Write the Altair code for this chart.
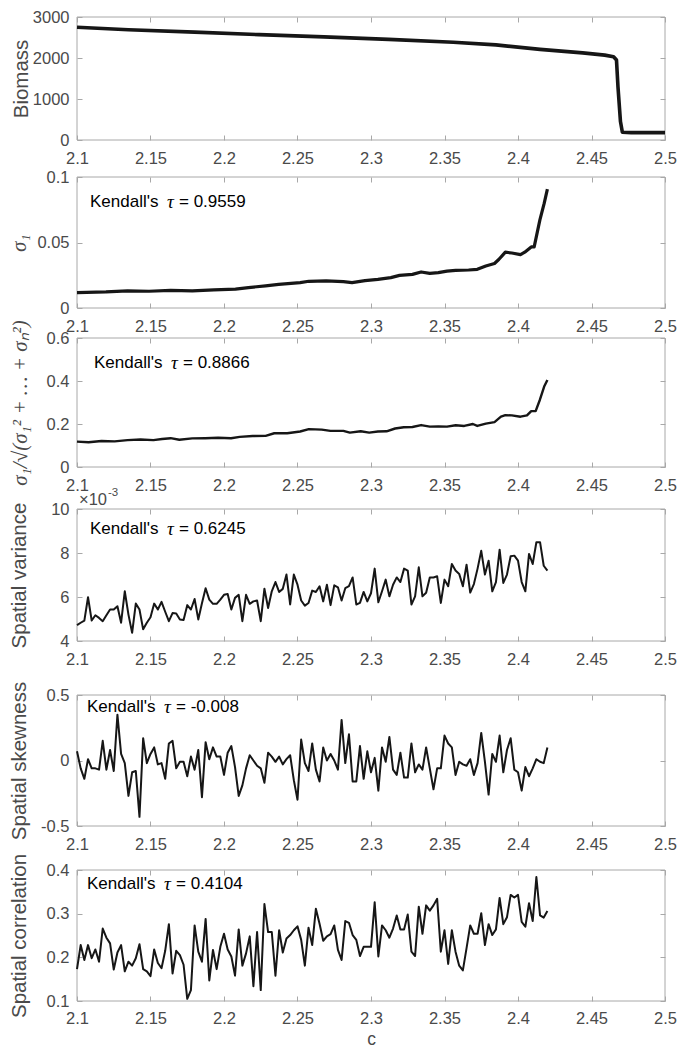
import altair as alt
import pandas as pd

FONT = "Liberation Sans"
LABEL_COLOR = "#4a4a4a"
FRAME_COLOR = "#a8a8a8"
LINE_COLOR = "#161616"
PLOT_W = 588

X_TICKS = [2.1, 2.15, 2.2, 2.25, 2.3, 2.35, 2.4, 2.45, 2.5]

# sampling grid of c for the noisy indicators
C_GRID = [
    2.1, 2.1025, 2.105, 2.1075, 2.11, 2.1125, 2.115, 2.1175,
    2.12, 2.1225, 2.125, 2.1275, 2.13, 2.1325, 2.135, 2.1375,
    2.14, 2.1425, 2.145, 2.1475, 2.15, 2.1525, 2.155, 2.1575,
    2.16, 2.1625, 2.165, 2.1675, 2.17, 2.1725, 2.175, 2.1775,
    2.18, 2.1825, 2.185, 2.1875, 2.19, 2.1925, 2.195, 2.1975,
    2.2, 2.2025, 2.205, 2.2075, 2.21, 2.2125, 2.215, 2.2175,
    2.22, 2.2225, 2.225, 2.2275, 2.23, 2.2325, 2.235, 2.2375,
    2.24, 2.2425, 2.245, 2.2475, 2.25, 2.2525, 2.255, 2.2575,
    2.26, 2.2625, 2.265, 2.2675, 2.27, 2.2725, 2.275, 2.2775,
    2.28, 2.2825, 2.285, 2.2875, 2.29, 2.2925, 2.295, 2.2975,
    2.3, 2.3025, 2.305, 2.3075, 2.31, 2.3125, 2.315, 2.3175,
    2.32, 2.3225, 2.325, 2.3275, 2.33, 2.3325, 2.335, 2.3375,
    2.34, 2.3425, 2.345, 2.3475, 2.35, 2.3525, 2.355, 2.3575,
    2.36, 2.3625, 2.365, 2.3675, 2.37, 2.3725, 2.375, 2.3775,
    2.38, 2.3825, 2.385, 2.3875, 2.39, 2.3925, 2.395, 2.3975,
    2.4, 2.4025, 2.405, 2.4075, 2.41, 2.4125, 2.415, 2.4175,
    2.42,
]

BIOMASS_C = [2.1, 2.135, 2.18, 2.224, 2.268, 2.312, 2.356, 2.385, 2.415,
             2.444, 2.459, 2.465, 2.467, 2.468, 2.4697, 2.471, 2.477, 2.5]
BIOMASS = [2750, 2690, 2630, 2570, 2515, 2455, 2385, 2320, 2210,
           2125, 2070, 2030, 1950, 1300, 450, 190, 180, 180]

SIGMA1_C = [2.1, 2.1197, 2.1344, 2.149, 2.1637, 2.1784, 2.1931, 2.2078, 2.2166,
            2.2283, 2.2372, 2.2518, 2.2577, 2.2695, 2.2812, 2.2871, 2.2959,
            2.3047, 2.3135, 2.3194, 2.3282, 2.3341, 2.34, 2.3458, 2.3517,
            2.3576, 2.3664, 2.3723, 2.3781, 2.384, 2.3869, 2.3914, 2.3958,
            2.4017, 2.4046, 2.409, 2.411, 2.4149, 2.4178, 2.42]
SIGMA1 = [0.0118, 0.0123, 0.0131, 0.0128, 0.0134, 0.0131, 0.0139, 0.0144, 0.0156,
          0.0169, 0.0181, 0.0194, 0.0204, 0.0207, 0.0202, 0.0194, 0.0209,
          0.0219, 0.0232, 0.0249, 0.0257, 0.0275, 0.0264, 0.027, 0.0282,
          0.0287, 0.029, 0.0295, 0.032, 0.034, 0.037, 0.0426, 0.042,
          0.0408, 0.0426, 0.0466, 0.0466, 0.0673, 0.0798, 0.0907]

RATIO_C = [2.1, 2.1079, 2.1167, 2.1256, 2.1344, 2.1432, 2.152, 2.1579, 2.1637,
           2.1696, 2.1784, 2.1872, 2.196, 2.2048, 2.2107, 2.2195, 2.2283,
           2.2342, 2.243, 2.2518, 2.2577, 2.2665, 2.2724, 2.2812, 2.2856,
           2.293, 2.2988, 2.3047, 2.3106, 2.3164, 2.3223, 2.3282, 2.3341,
           2.34, 2.3458, 2.3517, 2.3576, 2.3634, 2.3693, 2.3723, 2.3781,
           2.384, 2.3884, 2.3914, 2.3958, 2.4017, 2.4061, 2.409, 2.412,
           2.4149, 2.4178, 2.42]
RATIO = [0.118, 0.115, 0.121, 0.119, 0.125, 0.128, 0.125, 0.130, 0.134,
         0.127, 0.133, 0.134, 0.136, 0.134, 0.140, 0.144, 0.145,
         0.157, 0.157, 0.165, 0.176, 0.174, 0.168, 0.168, 0.160,
         0.166, 0.160, 0.165, 0.166, 0.179, 0.185, 0.186, 0.195,
         0.188, 0.189, 0.188, 0.194, 0.191, 0.200, 0.191, 0.202,
         0.209, 0.234, 0.241, 0.240, 0.234, 0.240, 0.260, 0.260,
         0.313, 0.374, 0.405]

# spatial variance in units of 10^-3
SPATIAL_VARIANCE = [
    4.72, 4.83, 4.93, 5.99, 4.93, 5.17, 5.05, 4.90,
    5.17, 5.43, 5.43, 5.58, 4.83, 6.26, 5.20, 4.37,
    5.70, 5.43, 4.53, 4.83, 5.08, 5.70, 5.43, 5.78,
    5.33, 4.90, 5.27, 5.25, 4.98, 4.95, 5.63, 5.43,
    5.91, 4.98, 5.72, 6.40, 5.88, 5.69, 5.69, 5.88,
    6.10, 6.14, 5.43, 5.96, 6.10, 4.90, 6.10, 5.69,
    5.80, 5.84, 4.90, 6.38, 5.50, 6.26, 6.68, 6.23,
    6.37, 7.02, 5.66, 7.02, 6.56, 5.84, 5.61, 5.73,
    6.29, 6.23, 6.49, 5.80, 6.56, 5.63, 6.53, 6.44,
    5.84, 6.40, 6.49, 6.89, 5.66, 5.73, 6.23, 5.80,
    6.17, 7.29, 5.76, 6.26, 6.79, 6.03, 6.56, 6.89,
    6.68, 7.29, 7.20, 5.66, 6.03, 7.35, 6.03, 6.19,
    6.89, 6.89, 6.94, 5.73, 6.79, 6.49, 7.50, 7.20,
    7.05, 6.49, 7.47, 6.20, 6.59, 7.29, 8.10, 7.02,
    7.65, 6.26, 6.68, 8.15, 6.64, 7.02, 7.85, 7.88,
    7.65, 6.68, 6.26, 7.96, 7.50, 8.49, 8.49, 7.42,
    7.20,
]

SPATIAL_SKEWNESS = [
    0.07, -0.06, -0.14, 0.01, -0.06, -0.06, -0.07, 0.15,
    -0.07, 0.08, -0.08, 0.35, 0.05, -0.02, -0.27, -0.09,
    -0.08, -0.43, 0.17, -0.02, 0.05, 0.10, -0.03, -0.02,
    -0.14, 0.13, 0.15, -0.06, -0.01, -0.01, -0.12, 0.03,
    -0.07, 0.08, -0.28, 0.14, 0.01, 0.10, 0.03, 0.03,
    -0.11, 0.06, 0.11, -0.05, -0.27, -0.19, -0.06, 0.04,
    0.00, -0.04, -0.06, -0.17, 0.06, 0.03, -0.01, 0.03,
    -0.03, 0.01, 0.04, -0.15, -0.30, 0.16, -0.02, -0.08,
    0.13, -0.07, -0.16, 0.10, 0.00, 0.05, 0.00, -0.07,
    0.31, -0.02, 0.20, -0.16, -0.16, 0.11, -0.14, 0.07,
    -0.09, 0.02, -0.23, 0.10, -0.01, 0.18, -0.07, -0.11,
    0.06, -0.13, -0.13, 0.13, -0.09, -0.03, -0.07, 0.10,
    -0.06, -0.22, -0.06, -0.06, 0.19, 0.13, 0.10, -0.11,
    -0.01, -0.03, -0.04, 0.01, -0.11, -0.02, 0.21, -0.01,
    -0.26, 0.05, -0.01, 0.19, -0.09, 0.08, 0.17, -0.07,
    -0.09, -0.23, -0.05, -0.12, -0.06, 0.01, -0.01, -0.02,
    0.10,
]

SPATIAL_CORRELATION = [
    0.173, 0.228, 0.194, 0.228, 0.198, 0.218, 0.190, 0.266,
    0.245, 0.232, 0.172, 0.211, 0.228, 0.168, 0.190, 0.181,
    0.198, 0.230, 0.173, 0.168, 0.157, 0.218, 0.187, 0.175,
    0.215, 0.276, 0.163, 0.215, 0.205, 0.183, 0.105, 0.125,
    0.273, 0.213, 0.190, 0.288, 0.147, 0.217, 0.173, 0.224,
    0.254, 0.218, 0.202, 0.158, 0.264, 0.181, 0.209, 0.248,
    0.134, 0.258, 0.125, 0.322, 0.258, 0.258, 0.158, 0.262,
    0.211, 0.243, 0.251, 0.262, 0.271, 0.240, 0.181, 0.268,
    0.228, 0.311, 0.277, 0.238, 0.248, 0.253, 0.273, 0.217,
    0.194, 0.283, 0.279, 0.251, 0.240, 0.203, 0.224, 0.224,
    0.224, 0.326, 0.202, 0.273, 0.262, 0.245, 0.266, 0.296,
    0.264, 0.264, 0.298, 0.213, 0.203, 0.316, 0.254, 0.319,
    0.307, 0.319, 0.334, 0.213, 0.262, 0.185, 0.262, 0.213,
    0.181, 0.170, 0.221, 0.273, 0.254, 0.254, 0.301, 0.228,
    0.276, 0.251, 0.264, 0.336, 0.276, 0.292, 0.343, 0.337,
    0.343, 0.281, 0.270, 0.324, 0.283, 0.384, 0.296, 0.291,
    0.306,
]

KENDALL_TAU = ["0.9559", "0.8866", "0.6245", "-0.008", "0.4104"]


def panel(c_vals, y_vals, ydom, yticks, ytitle, h, extra, lw,
          tau=None, adx=13, ady=25, xtitle=None, title_x=-73,
          title_font=FONT, title_style="normal", title_size=20.5,
          extra_layers=None):
    H = h + extra
    df = pd.DataFrame({"c": c_vals, "v": y_vals})
    one = pd.DataFrame({"k": [0]})
    xs = alt.Scale(domain=[2.1, 2.5], nice=False, zero=False)
    ys = alt.Scale(domain=ydom, range=[H, extra], nice=False, zero=False)

    bottom_kw = dict(orient="bottom", values=X_TICKS, offset=-5, tickSize=5,
                     tickColor=FRAME_COLOR, tickWidth=1, domain=False, grid=False,
                     labelFlush=False, labelOverlap=False,
                     labelExpr="'' + datum.value", labelFont=FONT, labelFontSize=16.5,
                     labelColor=LABEL_COLOR, labelPadding=9 if xtitle else 10)
    if xtitle:
        bottom_kw.update(title=xtitle, titleFont=FONT, titleFontSize=17.5,
                         titleFontWeight="normal", titleColor=LABEL_COLOR,
                         titleY=43, titleBaseline="middle")
    else:
        bottom_kw["title"] = None
    bottom = alt.Axis(**bottom_kw)
    left = alt.Axis(orient="left", values=yticks, offset=-5, tickSize=5,
                    tickColor=FRAME_COLOR, tickWidth=1, domain=False, grid=False,
                    labelFlush=False, labelOverlap=False,
                    labelExpr="'' + datum.value", labelFont=FONT, labelFontSize=16.5,
                    labelColor=LABEL_COLOR, labelPadding=8,
                    title=ytitle, titleFont=title_font, titleFontSize=title_size,
                    titleFontWeight="normal", titleFontStyle=title_style,
                    titleColor=LABEL_COLOR, titleAngle=270, titleBaseline="top",
                    titleAlign="center", titleX=title_x)
    top = alt.Axis(orient="top", values=X_TICKS, offset=-(extra + 5), tickSize=5,
                   tickColor=FRAME_COLOR, tickWidth=1, domain=False, grid=False,
                   labels=False, title=None)
    right = alt.Axis(orient="right", values=yticks, offset=-5, tickSize=5,
                     tickColor=FRAME_COLOR, tickWidth=1, domain=False, grid=False,
                     labels=False, title=None)

    frame = alt.Chart(one).mark_rect(filled=False, stroke=FRAME_COLOR, strokeWidth=1).encode(
        x=alt.XDatum(2.1, type="quantitative", scale=xs, axis=bottom),
        x2=alt.X2Datum(2.5),
        y=alt.YDatum(ydom[0], type="quantitative", scale=ys, axis=left),
        y2=alt.Y2Datum(ydom[1]),
    )
    line = alt.Chart(df).mark_line(color=LINE_COLOR, strokeWidth=lw, strokeJoin="round").encode(
        x=alt.X("c:Q", scale=xs, axis=top),
        y=alt.Y("v:Q", scale=ys, axis=right),
    )
    layers = [frame, line]
    if tau is not None:
        ty = extra + ady
        layers.append(alt.Chart(one).mark_text(
            align="left", baseline="middle", font=FONT, fontSize=17, color="#000000"
        ).encode(x=alt.value(adx), y=alt.value(ty), text=alt.value("Kendall's")))
        layers.append(alt.Chart(one).mark_text(
            align="left", baseline="middle", font="Liberation Serif", fontSize=19,
            fontStyle="italic", color="#000000"
        ).encode(x=alt.value(adx + 77), y=alt.value(ty), text=alt.value("\u03c4")))
        layers.append(alt.Chart(one).mark_text(
            align="left", baseline="middle", font=FONT, fontSize=17, color="#000000"
        ).encode(x=alt.value(adx + 89), y=alt.value(ty), text=alt.value("= " + tau)))
    if extra_layers:
        layers.extend(extra_layers(one, extra))
    return alt.layer(*layers).properties(width=PLOT_W, height=H).resolve_axis(
        x="independent", y="independent")


def exponent_layers(one, extra):
    base = alt.Chart(one).mark_text(align="left", baseline="middle", font=FONT,
                                    fontSize=16.5, color=LABEL_COLOR).encode(
        x=alt.value(2), y=alt.value(extra - 9), text=alt.value("\u00d710"))
    sup = alt.Chart(one).mark_text(align="left", baseline="middle", font=FONT,
                                   fontSize=11.5, color=LABEL_COLOR).encode(
        x=alt.value(31), y=alt.value(extra - 16), text=alt.value("-3"))
    return [base, sup]


p1 = panel(BIOMASS_C, BIOMASS, [0, 3000], [0, 1000, 2000, 3000], "Biomass",
           123, 0, 3.6, title_x=-71)
p2 = panel(SIGMA1_C, SIGMA1, [0, 0.1], [0, 0.05, 0.1], "\u03c3\u2081",
           131, 37, 3.2, tau=KENDALL_TAU[0], adx=13, ady=25,
           title_font="Liberation Serif", title_style="italic")
p3 = panel(RATIO_C, RATIO, [0, 0.6], [0, 0.2, 0.4, 0.6],
           "\u03c3\u2081/\u221a(\u03c3\u2081\u00b2 + \u2026 + \u03c3\u2099\u00b2)",
           129, 30, 2.4, tau=KENDALL_TAU[1], adx=17, ady=25,
           title_font="Liberation Serif", title_style="italic", title_size=21)
p4 = panel(C_GRID, SPATIAL_VARIANCE, [4, 10], [4, 6, 8, 10], "Spatial variance",
           132, 42, 2.0, tau=KENDALL_TAU[2], adx=13, ady=20,
           extra_layers=exponent_layers)
p5 = panel(C_GRID, SPATIAL_SKEWNESS, [-0.5, 0.5], [-0.5, 0, 0.5], "Spatial skewness",
           131, 54, 2.0, tau=KENDALL_TAU[3], adx=10, ady=12)
p6 = panel(C_GRID, SPATIAL_CORRELATION, [0.1, 0.4], [0.1, 0.2, 0.3, 0.4],
           "Spatial correlation", 131, 44, 2.0, tau=KENDALL_TAU[4], adx=10, ady=14,
           xtitle="c")

chart = alt.vconcat(p1, p2, p3, p4, p5, p6, spacing=0, bounds="flush").properties(
    padding=0
).configure_view(stroke="transparent")

chart.save("out.html", embed_options={"renderer": "svg", "actions": False})
